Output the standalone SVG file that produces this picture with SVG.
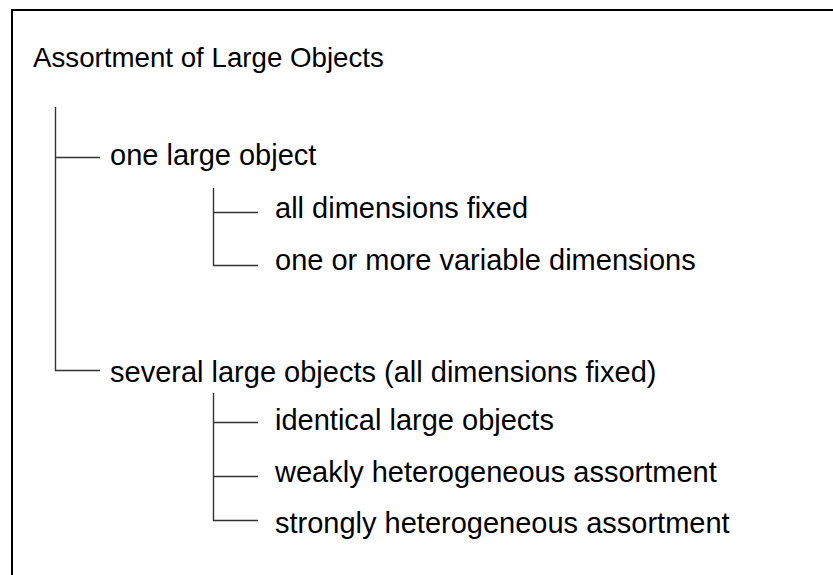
<svg xmlns="http://www.w3.org/2000/svg" width="833" height="575" viewBox="0 0 833 575">
<style>
text{font-family:"Liberation Sans",Arial,sans-serif;font-size:29px;fill:#000}
.c{stroke:#333;stroke-width:1.4;fill:none}
</style>
<rect x="0" y="0" width="833" height="575" fill="#fff"/>
<rect x="12" y="10" width="840" height="600" fill="none" stroke="#000" stroke-width="2"/>
<g id="connectors">
<path class="c" d="M55.5 107V370.5H100"/>
<path class="c" d="M55.5 157.5H100"/>
<path class="c" d="M213.5 188V265.5H258"/>
<path class="c" d="M213.5 212.5H258"/>
<path class="c" d="M213.5 393V520.5H258"/>
<path class="c" d="M213.5 422.5H258"/>
<path class="c" d="M213.5 476.5H258"/>
</g>
<g id="root"><text x="33" y="67" style="font-size:27.7px">Assortment of Large Objects</text></g>
<g id="one"><text x="110" y="165">one large object</text></g>
<g id="fixed"><text x="275" y="218">all dimensions fixed</text></g>
<g id="variable"><text x="275" y="270">one or more variable dimensions</text></g>
<g id="several"><text x="110" y="382">several large objects (all dimensions fixed)</text></g>
<g id="identical"><text x="275" y="430">identical large objects</text></g>
<g id="weakly"><text x="275" y="482">weakly heterogeneous assortment</text></g>
<g id="strongly"><text x="275" y="533">strongly heterogeneous assortment</text></g>
</svg>
